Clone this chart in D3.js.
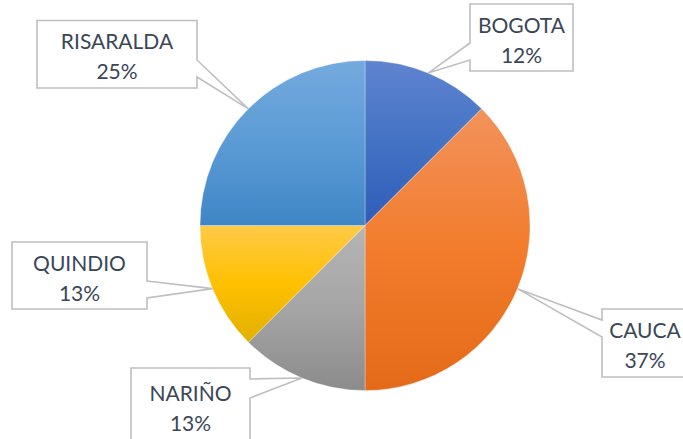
<!DOCTYPE html>
<html>
<head>
<meta charset="utf-8">
<title>pie</title>
<script src="https://cdn.jsdelivr.net/npm/d3@7"></script>
<style>
  body { margin:0; padding:0; background:#fff; overflow:hidden; }
  text { font-family: Lato, "Open Sans", sans-serif; }
</style>
</head>
<body>
<svg id="chart" width="683" height="439"></svg>
<script>
// data
var categories = ["BOGOTA", "CAUCA", "NARIÑO", "QUINDIO", "RISARALDA"];
var values = [12.5, 37.5, 12.5, 12.5, 25];
var labels = ["12%", "37%", "13%", "13%", "25%"];

// gradient stops per slice: light, base, dark
var colors = [
  ["#5f84d0", "#4472c4", "#2f5dba"],
  ["#f2925c", "#f27c2c", "#e36a18"],
  ["#b5b5b5", "#a5a5a5", "#8b8b8b"],
  ["#ffca48", "#ffc000", "#e1b000"],
  ["#74aade", "#5b9bd5", "#3f86c6"]
];

// callout boxes (x, y, w, h, side of pointer, pointer base offsets, text baseline offsets)
var boxes = [
  {x:470, y:4,    w:103, h:67, side:"left",  p1:39, p2:56, t1:28.5, t2:58.5},
  {x:602, y:309,  w:86,  h:68, side:"left",  p1:11, p2:28, t1:28.5, t2:58.5},
  {x:131, y:368,  w:119, h:76, side:"right", p1:11, p2:30, t1:33,   t2:63},
  {x:12,  y:242,  w:135, h:67, side:"right", p1:39, p2:56, t1:28.5, t2:58.5},
  {x:37,  y:20.5, w:160, h:67.5, side:"right", p1:39.5, p2:56.5, t1:28.5, t2:58.5}
];

var cx = 365, cy = 225.5, r = 165;

var svg = d3.select("#chart");
var defs = svg.append("defs");

colors.forEach(function(c, i) {
  var g = defs.append("linearGradient")
    .attr("id", "grad" + i)
    .attr("x1", 0).attr("y1", 0).attr("x2", 0).attr("y2", 1);
  g.append("stop").attr("offset", "0%").attr("stop-color", c[0]);
  g.append("stop").attr("offset", "50%").attr("stop-color", c[1]);
  g.append("stop").attr("offset", "100%").attr("stop-color", c[2]);
});

var pie = d3.pie().sort(null).value(function(d) { return d; });
var arcs = pie(values);

var arc = d3.arc().innerRadius(0).outerRadius(r);
var edge = d3.arc().innerRadius(r).outerRadius(r);

var g = svg.append("g").attr("transform", "translate(" + cx + "," + cy + ")");

g.selectAll("path.slice")
  .data(arcs)
  .enter()
  .append("path")
  .attr("class", "slice")
  .attr("d", arc)
  .attr("fill", function(d, i) { return "url(#grad" + i + ")"; })
  .attr("stroke", "#ffffff")
  .attr("stroke-opacity", 0.5)
  .attr("stroke-width", 0.6);

// callouts
function calloutPath(b, tip) {
  var x = b.x, y = b.y, w = b.w, h = b.h;
  var p = d3.path();
  p.moveTo(x, y);
  p.lineTo(x + w, y);
  if (b.side == "right") {
    p.lineTo(x + w, y + b.p1);
    p.lineTo(tip[0], tip[1]);
    p.lineTo(x + w, y + b.p2);
  }
  p.lineTo(x + w, y + h);
  p.lineTo(x, y + h);
  if (b.side == "left") {
    p.lineTo(x, y + b.p2);
    p.lineTo(tip[0], tip[1]);
    p.lineTo(x, y + b.p1);
  }
  p.closePath();
  return p.toString();
}

var callouts = svg.selectAll("g.callout")
  .data(arcs)
  .enter()
  .append("g")
  .attr("class", "callout");

callouts.append("path")
  .attr("d", function(d, i) {
    var c = edge.centroid(d);
    return calloutPath(boxes[i], [cx + c[0], cy + c[1]]);
  })
  .attr("fill", "#ffffff")
  .attr("stroke", "#bfbfbf")
  .attr("stroke-width", 1.6)
  .attr("stroke-linejoin", "miter");

callouts.append("text")
  .attr("x", function(d, i) { return boxes[i].x + boxes[i].w / 2; })
  .attr("y", function(d, i) { return boxes[i].y + boxes[i].t1; })
  .attr("text-anchor", "middle")
  .attr("font-size", 21)
  .attr("fill", "#3b4657")
  .text(function(d, i) { return categories[i]; });

callouts.append("text")
  .attr("x", function(d, i) { return boxes[i].x + boxes[i].w / 2; })
  .attr("y", function(d, i) { return boxes[i].y + boxes[i].t2; })
  .attr("text-anchor", "middle")
  .attr("font-size", 21)
  .attr("fill", "#3b4657")
  .text(function(d, i) { return labels[i]; });
</script>
</body>
</html>
